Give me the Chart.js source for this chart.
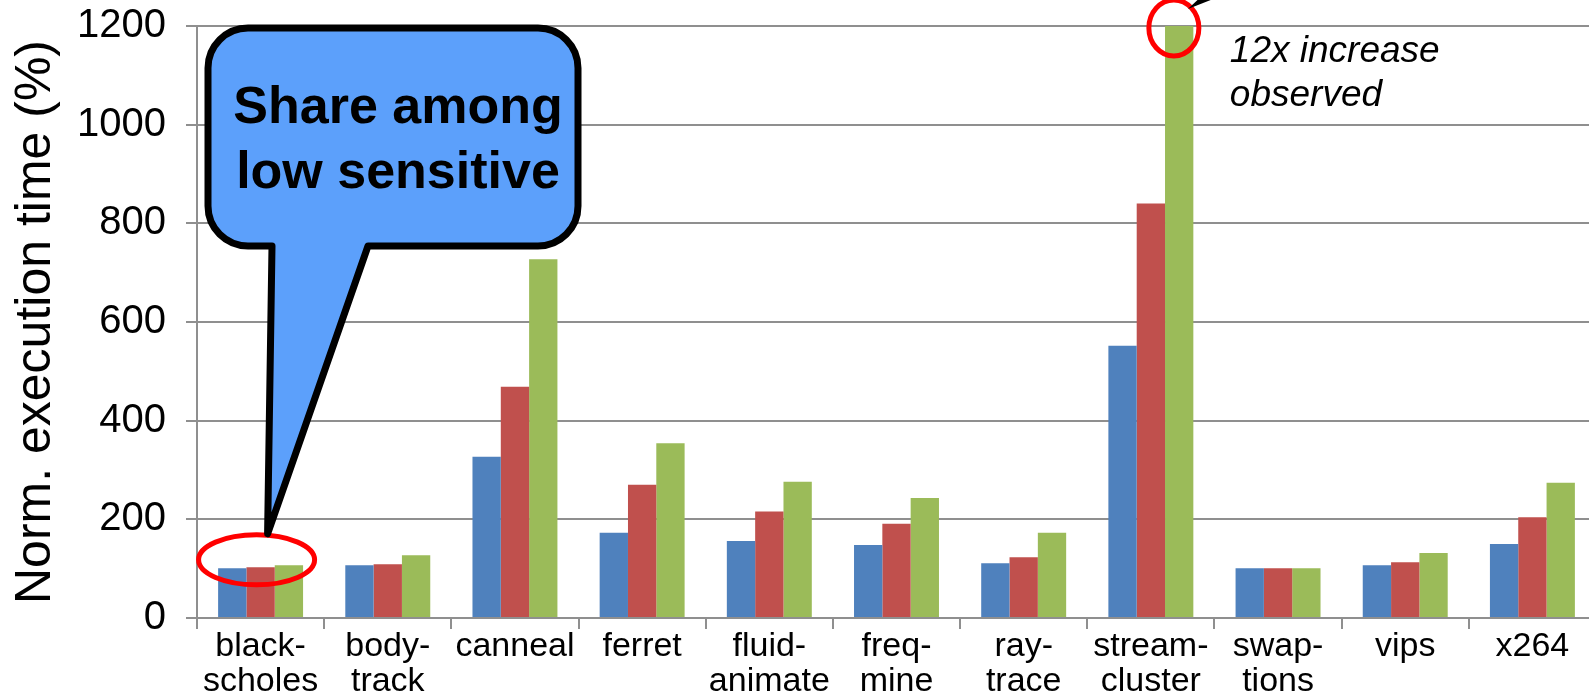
<!DOCTYPE html>
<html>
<head>
<meta charset="utf-8">
<script src="https://cdn.jsdelivr.net/npm/chart.js@4"></script>
<style>
  body { margin: 0; overflow: hidden; background: #fff; }
  #box { position: absolute; left: 0; top: 0; width: 1600px; height: 692px; }
</style>
</head>
<body>
<div id="box"><canvas id="chart-1"></canvas></div>
<script>
// ---------------------------- data ----------------------------
const categories = [
  ['black-', 'scholes'], ['body-', 'track'], ['canneal'], ['ferret'],
  ['fluid-', 'animate'], ['freq-', 'mine'], ['ray-', 'trace'],
  ['stream-', 'cluster'], ['swap-', 'tions'], ['vips'], ['x264']
];
const serie1 = [101, 107, 327, 173, 156, 148, 111, 552, 101, 107, 150];
const serie2 = [103, 109, 469, 270, 216, 191, 123, 840, 101, 113, 204];
const serie3 = [107, 127, 727, 354, 276, 243, 173, 1200, 101, 132, 274];
const yTicks = [0, 200, 400, 600, 800, 1000, 1200];

const gris = '#8f8f8f';
const police = '"Liberation Sans", Arial, sans-serif';

// ---------------------------- annotations ----------------------------
const annotations = {
  id: 'annotations',
  afterDraw(chart) {
    const c = chart.ctx;
    const x = chart.scales.x;
    const y = chart.scales.y;
    const area = chart.chartArea;

    // ellipse autour de blackscholes
    const ex = x.getPixelForValue(0) - 4;
    const ey = y.getPixelForValue(118);
    c.save();
    c.strokeStyle = '#ff0000';
    c.lineWidth = 5;
    c.beginPath();
    c.ellipse(ex, ey, 58, 25, 0, 0, Math.PI * 2);
    c.stroke();

    // cercle en haut de streamcluster
    const cx = x.getPixelForValue(7) + 23;
    const cy = y.getPixelForValue(1196);
    c.beginPath();
    c.ellipse(cx, cy, 25, 28, 0, 0, Math.PI * 2);
    c.stroke();

    // fleche noire (pointe sur le cercle)
    c.fillStyle = '#000';
    c.beginPath();
    c.moveTo(cx + 14, cy - 19);
    c.lineTo(cx + 28, cy - 32);
    c.lineTo(cx + 42, cy - 30);
    c.closePath();
    c.fill();

    // texte en italique
    c.font = 'italic 37px ' + police;
    c.textAlign = 'left';
    c.textBaseline = 'alphabetic';
    c.fillText('12x increase', cx + 56, area.top + 36);
    c.fillText('observed', cx + 56, area.top + 80);

    // bulle
    const L = area.left + 11, T = area.top + 2, R = area.left + 381, B = area.top + 220;
    const r = 40;
    const tipX = ex + 11, tipY = ey - 26;
    c.beginPath();
    c.moveTo(L + 64, B);
    c.lineTo(L + r, B);
    c.arcTo(L, B, L, B - r, r);
    c.lineTo(L, T + r);
    c.arcTo(L, T, L + r, T, r);
    c.lineTo(R - r, T);
    c.arcTo(R, T, R, T + r, r);
    c.lineTo(R, B - r);
    c.arcTo(R, B, R - r, B, r);
    c.lineTo(L + 160, B);
    c.lineTo(tipX, tipY);
    c.closePath();
    c.fillStyle = '#5ca0fb';
    c.fill();
    c.lineWidth = 7;
    c.lineJoin = 'round';
    c.strokeStyle = '#000';
    c.stroke();

    c.fillStyle = '#000';
    c.font = 'bold 52px ' + police;
    c.textAlign = 'center';
    c.fillText('Share among', L + 190, T + 95);
    c.fillText('low sensitive', L + 190, T + 160);
    c.restore();
  }
};

// ---------------------------- chart ----------------------------
const ctx = document.getElementById('chart-1');
new Chart(ctx, {
  type: 'bar',
  data: {
    labels: categories,
    datasets: [
      { label: 'Serie 1', data: serie1, backgroundColor: '#4f81bd' },
      { label: 'Serie 2', data: serie2, backgroundColor: '#c0504d' },
      { label: 'Serie 3', data: serie3, backgroundColor: '#9bbb59' }
    ]
  },
  options: {
    responsive: true,
    maintainAspectRatio: false,
    animation: false,
    devicePixelRatio: 1,
    layout: { padding: { top: 26, right: 4, left: 0, bottom: 0 } },
    datasets: { bar: { categoryPercentage: 0.668, barPercentage: 1 } },
    plugins: { legend: { display: false }, tooltip: { enabled: false } },
    scales: {
      x: {
        grid: { offset: true, drawOnChartArea: false, drawTicks: true, tickLength: 11, color: gris, lineWidth: 2 },
        border: { color: gris, width: 2 },
        ticks: { color: '#000', padding: 0, maxRotation: 0, autoSkip: false,
                 font: { family: police, size: 34, lineHeight: 1.04 } },
        afterFit(scale) { scale.height = 74; }
      },
      y: {
        min: 0,
        max: 1200,
        afterBuildTicks(scale) { scale.ticks = yTicks.map(v => ({ value: v })); },
        grid: { color: gris, lineWidth: 2, tickLength: 11 },
        border: { color: gris, width: 2 },
        ticks: { color: '#000', padding: 20, font: { family: police, size: 40 },
                 callback: v => String(v) },
        title: {
          display: true,
          text: 'Norm. execution time (%)',
          color: '#000',
          padding: { top: 6, bottom: 0 },
          font: { family: police, size: 50, lineHeight: 1.2 }
        },
        afterFit(scale) {
          scale.width = 197;
          scale.paddingTop = 0;
          scale.paddingBottom = 0;
        }
      }
    }
  },
  plugins: [annotations]
});
</script>
</body>
</html>
